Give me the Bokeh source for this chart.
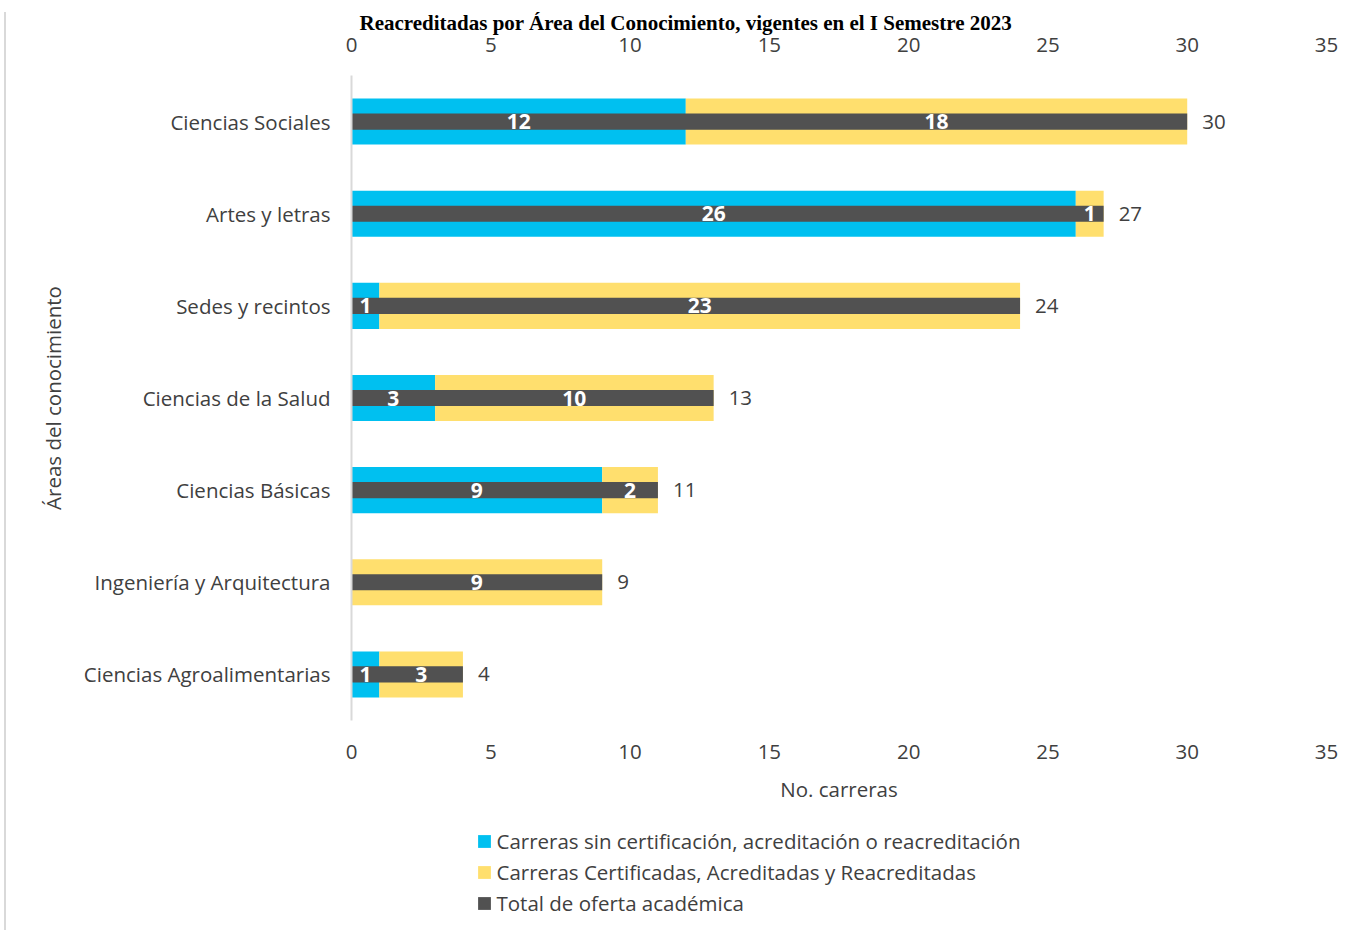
from bokeh.plotting import figure
from bokeh.layouts import column
from bokeh.models import (ColumnDataSource, FactorRange, Range1d, LinearAxis, FixedTicker,
                          Legend, LegendItem)
from bokeh.core.properties import value
from bokeh.embed import file_html
from bokeh.resources import INLINE

# ---------------- data ----------------
categories = ["Ciencias Sociales", "Artes y letras", "Sedes y recintos", "Ciencias de la Salud",
              "Ciencias Básicas", "Ingeniería y Arquitectura", "Ciencias Agroalimentarias"]
sin_acreditacion = [12, 26, 1, 3, 9, 0, 1]
acreditadas = [18, 1, 23, 10, 2, 9, 3]
total_oferta = [30, 27, 24, 13, 11, 9, 4]
x_ticks = [0, 5, 10, 15, 20, 25, 30, 35]
series_names = ["Carreras sin certificación, acreditación o reacreditación",
                "Carreras Certificadas, Acreditadas y Reacreditadas",
                "Total de oferta académica"]
title_text = "Reacreditadas por Área del Conocimiento, vigentes en el I Semestre 2023"
x_label = "No. carreras"
y_label = "Áreas del conocimiento"

# ---------------- style ----------------
C_CYAN = "#00C0F0"
C_YELLOW = "#FFDF6E"
C_GRAY = "#515151"
TXT = "#404040"
FONT = "Open Sans"
FS = "20.5px"
EDGE = "inset 4px 12px 0 0 #FFFFFF, inset 6px 12px 0 0 #D9D9D9"

W = 1350
H_MAIN = 815
H_LEG = 115
FL, FR, FT, FB = 351, 1326, 75, 720   # frame edges

p = figure(width=W, height=H_MAIN,
           y_range=FactorRange(factors=categories[::-1]),
           x_range=Range1d(0, 35),
           output_backend="svg", toolbar_location=None,
           min_border_left=FL, min_border_right=W - FR,
           min_border_top=FT, min_border_bottom=H_MAIN - FB)
p.border_fill_alpha = 0
p.styles = {"box-shadow": EDGE}

src = ColumnDataSource(dict(
    cat=categories,
    s_left=[0] * len(categories),
    s_right=sin_acreditacion,
    a_left=sin_acreditacion,
    a_right=[s + a for s, a in zip(sin_acreditacion, acreditadas)],
    total=total_oferta,
    total_text=[str(t) for t in total_oferta],
))

p.hbar(y="cat", left="s_left", right="s_right", height=0.5, source=src,
       fill_color=C_CYAN, line_color=None)
p.hbar(y="cat", left="a_left", right="a_right", height=0.5, source=src,
       fill_color=C_YELLOW, line_color=None)
p.hbar(y="cat", left=0, right="total", height=0.175, source=src,
       fill_color=C_GRAY, line_color=None)

# segment labels
seg_x, seg_y, seg_t = [], [], []
for c, s, a in zip(categories, sin_acreditacion, acreditadas):
    if s > 0:
        seg_x.append(s / 2); seg_y.append(c); seg_t.append(str(s))
    if a > 0:
        seg_x.append(s + a / 2); seg_y.append(c); seg_t.append(str(a))
seg_src = ColumnDataSource(dict(x=seg_x, y=seg_y, t=seg_t))
p.text(x="x", y="y", text="t", source=seg_src, text_font=value(FONT), text_font_style="bold",
       text_font_size="21px", text_color="white", text_align="center", text_baseline="middle")

p.text(x="total", y="cat", text="total_text", source=src, x_offset=15,
       text_font=value(FONT), text_font_size=FS, text_color=TXT,
       text_align="left", text_baseline="middle")

# ---------------- axes ----------------
top_axis = LinearAxis()
p.add_layout(top_axis, "above")
bottom_axis = p.below[0]
for ax in [bottom_axis, top_axis]:
    ax.ticker = FixedTicker(ticks=x_ticks)
    ax.axis_line_color = None
    ax.major_tick_line_color = None
    ax.minor_tick_line_color = None
    ax.major_tick_out = 0
    ax.major_tick_in = 0
    ax.major_label_text_font = FONT
    ax.major_label_text_font_size = FS
    ax.major_label_text_color = TXT
top_axis.major_label_standoff = 24
bottom_axis.major_label_standoff = 24

bottom_axis.axis_label = x_label
bottom_axis.axis_label_text_font = FONT
bottom_axis.axis_label_text_font_size = FS
bottom_axis.axis_label_text_font_style = "normal"
bottom_axis.axis_label_text_color = TXT
bottom_axis.axis_label_standoff = 13

ya = p.yaxis[0]
ya.axis_line_color = "#D9D9D9"
ya.axis_line_width = 2
ya.major_tick_line_color = None
ya.minor_tick_line_color = None
ya.major_tick_out = 0
ya.major_label_text_font = FONT
ya.major_label_text_font_size = FS
ya.major_label_text_color = TXT
ya.major_label_standoff = 21
ya.axis_label = y_label
ya.axis_label_text_font = FONT
ya.axis_label_text_font_size = FS
ya.axis_label_text_font_style = "normal"
ya.axis_label_text_color = TXT
ya.axis_label_standoff = 14

p.xgrid.grid_line_color = None
p.ygrid.grid_line_color = None
p.outline_line_color = None

# ---------------- title ----------------
p.title.text = title_text
p.title.text_font = "Liberation Serif"
p.title.text_font_style = "bold"
p.title.text_font_size = "21px"
p.title.text_color = "black"
p.title.align = "left"
p.title.offset = 8
p.title.standoff = 0

# ---------------- legend (separate strip below the chart) ----------------
lf = figure(width=W, height=H_LEG, x_range=Range1d(0, 1), y_range=Range1d(0, 1),
            x_axis_type=None, y_axis_type=None, output_backend="svg", toolbar_location=None,
            min_border_left=FL, min_border_right=W - FR,
            min_border_top=0, min_border_bottom=0)
lf.outline_line_color = None
lf.xgrid.grid_line_color = None
lf.ygrid.grid_line_color = None
lf.border_fill_alpha = 0
lf.styles = {"box-shadow": "inset 4px 0 0 0 #FFFFFF, inset 6px 0 0 0 #D9D9D9"}
dummy = ColumnDataSource(dict(y=[-1000], left=[-1000], right=[-999]))
l1 = lf.hbar(y="y", left="left", right="right", height=1, source=dummy, fill_color=C_CYAN, line_color=None)
l2 = lf.hbar(y="y", left="left", right="right", height=1, source=dummy, fill_color=C_YELLOW, line_color=None)
l3 = lf.hbar(y="y", left="left", right="right", height=1, source=dummy, fill_color=C_GRAY, line_color=None)
legend = Legend(items=[LegendItem(label=series_names[0], renderers=[l1]),
                       LegendItem(label=series_names[1], renderers=[l2]),
                       LegendItem(label=series_names[2], renderers=[l3])],
                location=(124.5, 13), orientation="vertical",
                border_line_color=None, background_fill_alpha=0,
                padding=0, margin=0, spacing=3, label_height=27,
                glyph_width=16, glyph_height=16, label_standoff=5,
                label_text_font=FONT, label_text_font_size=FS, label_text_color=TXT)
lf.add_layout(legend, "center")

layout = column(p, lf, spacing=0)
open("out.html", "w").write(file_html(layout, INLINE))
